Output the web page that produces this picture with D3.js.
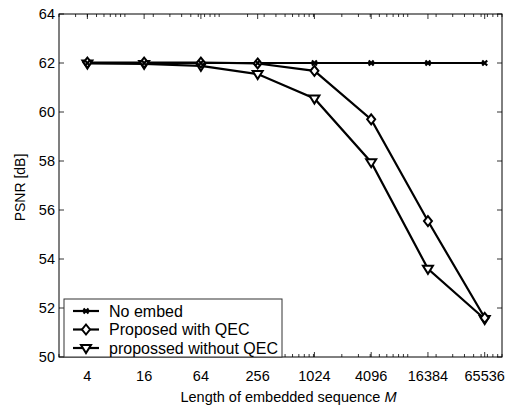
<!DOCTYPE html>
<html><head><meta charset="utf-8">
<script src="https://cdn.jsdelivr.net/npm/d3@7"></script>
<style>body{margin:0;background:#fff}svg{display:block}text{font-family:"Liberation Sans",Arial,sans-serif}</style>
</head><body>
<svg id="c" width="515" height="405"></svg>
<script>
const lengths = [4, 16, 64, 256, 1024, 4096, 16384, 65536];
const noEmbed = [62.0, 62.0, 62.0, 62.0, 62.0, 62.0, 62.0, 62.0];
const withQEC = [62.02, 62.02, 62.02, 61.98, 61.68, 59.7, 55.55, 51.6];
const withoutQEC = [61.98, 61.96, 61.88, 61.55, 60.55, 57.95, 53.6, 51.55];
const yTicks = [50, 52, 54, 56, 58, 60, 62, 64];
const seriesNames = ["No embed", "Proposed with QEC", "propossed without QEC"];

const svg = d3.select("#c");
const L = 59, R = 502, T = 14, B = 357;
const x = d3.scaleLog().base(2).domain([2, 100000]).range([L, R]);
const y = d3.scaleLinear().domain([50, 64]).range([B, T]);

const minor = [];
for (let e = 0; e <= 5; e++) for (let m = 1; m <= 9; m++) {
  const v = m * Math.pow(10, e);
  if (v >= 2 && v <= 100000) minor.push(v);
}
const g = svg.append("g");
minor.forEach(v => {
  const px = x(v);
  g.append("line").attr("x1", px).attr("x2", px).attr("y1", B).attr("y2", B - 3).attr("stroke", "#000").attr("stroke-width", 0.8);
  g.append("line").attr("x1", px).attr("x2", px).attr("y1", T).attr("y2", T + 3).attr("stroke", "#000").attr("stroke-width", 0.8);
});
lengths.forEach(v => {
  const px = x(v);
  g.append("line").attr("x1", px).attr("x2", px).attr("y1", B).attr("y2", B - 5).attr("stroke", "#000").attr("stroke-width", 0.8);
  g.append("line").attr("x1", px).attr("x2", px).attr("y1", T).attr("y2", T + 5).attr("stroke", "#000").attr("stroke-width", 0.8);
  g.append("text").attr("x", px).attr("y", 381).attr("text-anchor", "middle").attr("font-size", 14.5).text(v);
});
yTicks.forEach(v => {
  const py = y(v);
  g.append("line").attr("x1", L).attr("x2", L + 5).attr("y1", py).attr("y2", py).attr("stroke", "#000").attr("stroke-width", 0.8);
  g.append("line").attr("x1", R).attr("x2", R - 5).attr("y1", py).attr("y2", py).attr("stroke", "#000").attr("stroke-width", 0.8);
  g.append("text").attr("x", L - 4).attr("y", py + 5).attr("text-anchor", "end").attr("font-size", 14.5).text(v);
});
g.append("rect").attr("x", L).attr("y", T).attr("width", R - L).attr("height", B - T).attr("fill", "none").attr("stroke", "#000").attr("stroke-width", 1);

const xl = svg.append("text").attr("x", (L + R) / 2 + 8).attr("y", 402).attr("text-anchor", "middle").attr("font-size", 14.5);
xl.append("tspan").text("Length of embedded sequence  ");
xl.append("tspan").attr("font-style", "italic").text("M");
svg.append("text").attr("transform", `translate(25,${(T + B) / 2 + 2}) rotate(-90)`).attr("text-anchor", "middle").attr("font-size", 14).text("PSNR [dB]");

function marker(sel, type, cx, cy) {
  if (type === 0) {
    const s = 2.5;
    sel.append("path").attr("d", `M${cx - s},${cy - s}L${cx + s},${cy + s}M${cx - s},${cy + s}L${cx + s},${cy - s}`)
      .attr("stroke", "#000").attr("stroke-width", 2.2).attr("fill", "none");
  } else if (type === 1) {
    const s = 5;
    sel.append("path").attr("d", `M${cx},${cy - s}L${cx + s * 0.8},${cy}L${cx},${cy + s}L${cx - s * 0.8},${cy}Z`)
      .attr("stroke", "#000").attr("stroke-width", 2).attr("fill", "#fff");
  } else {
    const s = 5;
    sel.append("path").attr("d", `M${cx - s},${cy - s * 0.6}L${cx + s},${cy - s * 0.6}L${cx},${cy + s}Z`)
      .attr("stroke", "#000").attr("stroke-width", 2).attr("fill", "#fff");
  }
}

const line = d3.line().x(d => x(d[0])).y(d => y(d[1]));
const allSeries = [noEmbed, withQEC, withoutQEC];
const order = [2, 1, 0];
order.forEach(i => {
  const data = lengths.map((l, k) => [l, allSeries[i][k]]);
  svg.append("path").datum(data).attr("d", line).attr("fill", "none").attr("stroke", "#000").attr("stroke-width", 2.2);
});
order.forEach(i => {
  const gm = svg.append("g");
  lengths.forEach((l, k) => marker(gm, i, x(l), y(allSeries[i][k])));
});

const lg = svg.append("g");
lg.append("rect").attr("x", 64).attr("y", 299).attr("width", 218).attr("height", 58).attr("fill", "#fff").attr("stroke", "#333").attr("stroke-width", 1);
seriesNames.forEach((n, i) => {
  const ly = 311 + i * 18.5;
  lg.append("line").attr("x1", 73).attr("x2", 99).attr("y1", ly).attr("y2", ly).attr("stroke", "#000").attr("stroke-width", 2.2);
  marker(lg, i, 86, ly);
  lg.append("text").attr("x", 109).attr("y", ly + 5.5).attr("font-size", 16).text(n);
});
</script>
</body></html>
